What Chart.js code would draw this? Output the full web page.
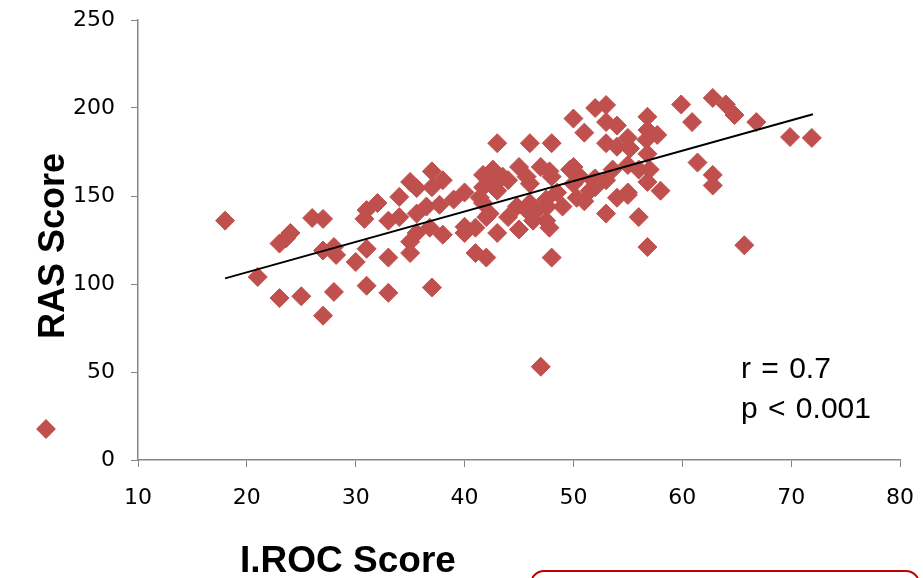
<!DOCTYPE html>
<html>
<head>
<meta charset="utf-8">
<script src="https://cdn.jsdelivr.net/npm/chart.js@4"></script>
<style>
  body { margin: 0; background: #fff; overflow: hidden; }
  #wrap { position: relative; width: 923px; height: 578px; }
  canvas { display: block; }
  .lbl { position: absolute; font-family: "Liberation Sans", Arial, sans-serif; color: #000; white-space: pre; }
  #ytitle { font-weight: bold; font-size: 36px; left: 52px; top: 246px; transform: translate(-50%, -50%) rotate(-90deg); }
  #xtitle { font-weight: bold; font-size: 37px; left: 348px; top: 560px; transform: translate(-50%, -50%); }
  #stats { font-size: 30px; left: 741px; top: 348px; line-height: 40px; word-spacing: 2px; }
  #key { position: absolute; left: 39px; top: 422px; width: 14px; height: 14px; background: #C0504D; transform: rotate(45deg); }
  #box { position: absolute; left: 530px; top: 570px; width: 386px; height: 40px; border: 2px solid #C00000; border-radius: 14px; }
</style>
</head>
<body>
<div id="wrap">
  <canvas id="chart" width="923" height="578"></canvas>
  <div class="lbl" id="ytitle">RAS Score</div>
  <div class="lbl" id="xtitle">I.ROC Score</div>
  <div class="lbl" id="stats">r = 0.7
p &lt; 0.001</div>
  <div id="key"></div>
  <div id="box"></div>
</div>
<script>
// I.ROC score (x) and RAS score (y)
const iroc = [18, 21, 23, 25, 23, 23.6, 24, 26, 27, 27, 28, 28.2, 28, 27, 30, 31, 33, 37, 31, 30.8,
    31, 32, 33, 34, 34, 35, 35.6, 37, 37, 38, 35.6, 36.5, 37.7, 39, 40, 36.8, 35.6, 35, 35, 33,
    38, 40, 41, 43, 42, 41.7, 41, 42, 41.7, 42.6, 43.5, 41.7, 43, 43, 46, 48, 50, 51, 52, 53,
    53, 54, 53, 54, 55, 55.2, 45, 47, 49.7, 44, 46, 48, 50.6, 51.8, 53.6, 54, 55, 53, 41.4, 44.8,
    46, 47.5, 48.5, 49, 50.3, 51.5, 44, 45, 47.5, 46.6, 48, 47, 56.8, 56.8, 57.7, 56.7, 56.8, 53,
    55, 56, 57, 56.8, 58, 55, 56, 61.4, 62.8, 62.8, 56.8, 65.7, 59.9, 62.8, 64, 64.8, 60.9, 66.8,
    69.9, 71.9, 47.8, 45.7, 42.6, 42.3, 45.7, 47.6, 46.3, 47.8, 40, 50, 50, 51, 52, 52];
const ras = [136, 104, 92, 93, 123, 126, 129, 137.5, 137, 119, 121, 116.5, 95.5, 82, 112.5, 99, 95, 98, 120, 137,
    142, 146, 136, 138, 149.5, 158, 154.5, 155, 164, 159, 140, 144, 145, 148, 152, 132, 129, 124, 117.6, 115,
    128, 129, 132, 129, 138, 146, 117.6, 115, 162, 165, 161, 155, 153, 180, 180, 180, 194, 186, 200, 201.7,
    192, 190, 180, 178, 183, 177, 166.5, 166.5, 165, 159, 157, 161, 161, 159, 165, 149, 152, 140, 149, 144,
    146, 148, 152, 144, 149, 153, 138, 131, 136, 142, 115, 53, 195, 187.5, 184.7, 182, 174, 159,
    167.6, 165, 165, 158, 153, 150.6, 138, 169, 162, 156, 121, 122, 202, 205.7, 202, 196, 192, 192,
    183.5, 183, 164, 161, 157, 140, 142, 144, 136, 132, 132.5, 166.5, 157, 147, 155, 160];

// trend line end points
const trendX = [18, 72];
const trendY = [103.2, 196.4];

const xTicks = [10, 20, 30, 40, 50, 60, 70, 80];
const yTicks = [0, 50, 100, 150, 200, 250];

const points = iroc.map((x, i) => ({ x: x, y: ras[i] }));
const trend = trendX.map((x, i) => ({ x: x, y: trendY[i] }));

const axisColor = '#868686';

new Chart(document.getElementById('chart'), {
    type: 'scatter',
    data: {
        datasets: [{
            type: 'line',
            data: trend,
            borderColor: '#000',
            borderWidth: 2,
            pointRadius: 0,
            fill: false,
            order: 0
        }, {
            data: points,
            pointStyle: 'rectRot',
            pointRadius: 9.5,
            pointHoverRadius: 9.5,
            backgroundColor: '#C0504D',
            borderColor: '#C0504D',
            borderWidth: 1,
            order: 1
        }]
    },
    options: {
        responsive: false,
        animation: false,
        layout: { autoPadding: false, padding: { top: 20, right: 23, left: 0, bottom: 0 } },
        plugins: { legend: { display: false }, tooltip: { enabled: false } },
        scales: {
            x: {
                type: 'linear',
                min: 10,
                max: 80,
                afterBuildTicks: s => { s.ticks = xTicks.map(v => ({ value: v })); },
                afterFit: s => {
                    s.height = 118;
                    s.paddingLeft = 0;
                    s.paddingRight = 0;
                },
                ticks: { font: { family: 'DejaVu Sans', size: 22 }, color: '#000', padding: 18 },
                grid: { drawOnChartArea: false, tickLength: 7, color: axisColor },
                border: { color: axisColor, width: 1.5 }
            },
            y: {
                min: 0,
                max: 250,
                afterBuildTicks: s => { s.ticks = yTicks.map(v => ({ value: v })); },
                afterFit: s => {
                    s.width = 138;
                    s.paddingTop = 0;
                    s.paddingBottom = 0;
                },
                ticks: { font: { family: 'DejaVu Sans', size: 22 }, color: '#000', padding: 16 },
                grid: { drawOnChartArea: false, tickLength: 7, color: axisColor },
                border: { color: axisColor, width: 1.5 }
            }
        }
    }
});
</script>
</body>
</html>
